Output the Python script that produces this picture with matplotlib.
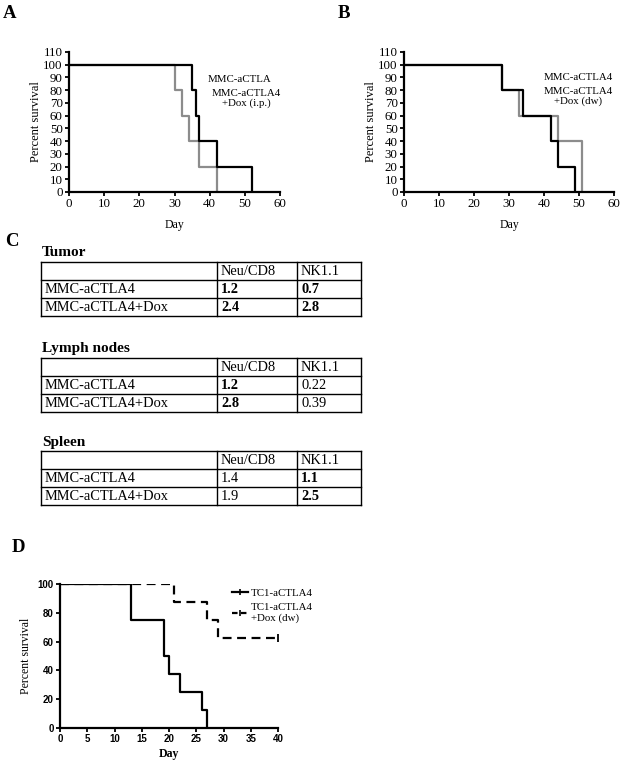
import numpy as np
import matplotlib
matplotlib.use("Agg")
import matplotlib.pyplot as plt
from matplotlib.lines import Line2D
from matplotlib.font_manager import FontProperties

plt.rcParams['font.family'] = ['Liberation Serif', 'DejaVu Serif']

# --- survival data (step functions: day of drop, survival after drop) ---
a_black_days = [0, 35, 36, 37, 42, 52]
a_black_surv = [100, 80, 60, 40, 20, 0]
a_gray_days = [0, 30, 32, 34, 37, 42]
a_gray_surv = [100, 80, 60, 40, 20, 0]
a_labels = ["MMC-aCTLA", "MMC-aCTLA4\n+Dox (i.p.)"]

b_black_days = [0, 28, 34, 42, 44, 49]
b_black_surv = [100, 80, 60, 40, 20, 0]
b_gray_days = [0, 28, 33, 44, 51]
b_gray_surv = [100, 80, 60, 40, 0]
b_labels = ["MMC-aCTLA4", "MMC-aCTLA4\n+Dox (dw)"]

d_solid_days = [0, 13, 19, 20, 22, 26, 27]
d_solid_surv = [100, 75, 50, 37.5, 25, 12.5, 0]
d_dash_days = [0, 21, 27, 29, 40]
d_dash_surv = [100, 87.5, 75, 62.5, 62.5]
d_labels = ["TC1-aCTLA4", "TC1-aCTLA4\n+Dox (dw)"]

# --- tables ---
table_titles = ["Tumor", "Lymph nodes", "Spleen"]
table_cols = ["", "Neu/CD8", "NK1.1"]
table_rows = ["MMC-aCTLA4", "MMC-aCTLA4+Dox"]
neu_cd8 = [["1.2", "2.4"], ["1.2", "2.8"], ["1.4", "1.9"]]
nk11 = [["0.7", "2.8"], ["0.22", "0.39"], ["1.1", "2.5"]]
neu_bold = [True, True, False]
nk_bold = [True, False, True]

W, H = 622, 766
fig = plt.figure(figsize=(W / 100, H / 100), dpi=100)


def px_axes(l, t, r, b):
    return fig.add_axes([l / W, 1 - b / H, (r - l) / W, (b - t) / H])


def step(ax, days, surv, end=None, **kw):
    x = list(days)
    y = list(surv)
    if end is not None:
        x.append(end)
        y.append(y[-1])
    ax.step(x, y, where='post', **kw)


def style_km(ax, xmax, ymax, xstep, ystep, tickfont):
    ax.set_xlim(0, xmax)
    ax.set_ylim(0, ymax)
    ax.set_xticks(np.arange(0, xmax + 1, xstep))
    ax.set_yticks(np.arange(0, ymax + 1, ystep))
    for s in ['top', 'right']:
        ax.spines[s].set_visible(False)
    for s in ['left', 'bottom']:
        ax.spines[s].set_linewidth(1.6)
    ax.tick_params(direction='out', length=3, width=1.3, pad=1.5)
    for lab in ax.get_xticklabels() + ax.get_yticklabels():
        lab.set_fontproperties(tickfont)


serif_tick = FontProperties(family='Liberation Serif', size=9.3)
sans_tick = FontProperties(family='Liberation Sans', weight='bold', size=7)

# Panel A
axA = px_axes(69, 52, 280, 192)
step(axA, a_gray_days, a_gray_surv, color='#8c8c8c', lw=1.6)
step(axA, a_black_days, a_black_surv, color='black', lw=1.6)
style_km(axA, 60, 110, 10, 10, serif_tick)
axA.set_ylabel("Percent survival", fontsize=9, labelpad=1)
axA.set_xlabel("Day", fontsize=8.5, labelpad=6)
axA.text(0.81, 0.80, a_labels[0], transform=axA.transAxes, fontsize=7.8, ha='center', va='center')
axA.text(0.84, 0.67, a_labels[1], transform=axA.transAxes, fontsize=7.8, ha='center', va='center',
         linespacing=1.05, multialignment='center')

# Panel B
axB = px_axes(404, 52, 614, 192)
step(axB, b_gray_days, b_gray_surv, color='#8c8c8c', lw=1.6)
step(axB, b_black_days, b_black_surv, color='black', lw=1.6)
style_km(axB, 60, 110, 10, 10, serif_tick)
axB.set_ylabel("Percent survival", fontsize=9, labelpad=1)
axB.set_xlabel("Day", fontsize=8.5, labelpad=6)
axB.text(0.83, 0.82, b_labels[0], transform=axB.transAxes, fontsize=7.8, ha='center', va='center')
axB.text(0.83, 0.68, b_labels[1], transform=axB.transAxes, fontsize=7.8, ha='center', va='center',
         linespacing=1.05, multialignment='center')

# Panel D
axD = px_axes(60, 584, 278, 728)
step(axD, d_solid_days, d_solid_surv, color='black', lw=1.6)
step(axD, d_dash_days, d_dash_surv, color='black', lw=1.6, linestyle=(0, (4, 2.5)))
axD.plot([d_dash_days[-1]], [d_dash_surv[-1]], marker='|', color='black', ms=6, mew=1.3)
style_km(axD, 40, 100, 5, 20, sans_tick)
axD.set_ylabel("Percent survival", fontsize=8.5, labelpad=4)
axD.set_xlabel("Day", fontsize=8.5, fontweight='bold', labelpad=3)
handles = [Line2D([], [], color='black', lw=1.6, marker='|', ms=5, mew=1.2),
           Line2D([], [], color='black', lw=1.6, linestyle=(0, (2.5, 1.5)), marker='|', ms=5, mew=1.2)]
axD.legend(handles, d_labels, loc='upper left', bbox_to_anchor=(0.77, 1.0), frameon=False,
           fontsize=7.8, handlelength=1.5, handletextpad=0.2, labelspacing=0.45, borderaxespad=0,
           numpoints=1)

# Panel C tables drawn on an overlay axes in pixel units
axC = fig.add_axes([0, 0, 1, 1])
axC.set_xlim(0, W)
axC.set_ylim(H, 0)
axC.axis('off')

col_x = [41, 217, 297, 361]
tops = [262, 358, 451]
title_y = [256, 352, 446]
row_h = 18
fs = 10.4
for k in range(3):
    top = tops[k]
    axC.text(42, title_y[k], table_titles[k], fontsize=11, fontweight='bold', va='baseline', ha='left')
    nrows = 1 + len(table_rows)
    for i in range(nrows + 1):
        axC.plot([col_x[0], col_x[-1]], [top + i * row_h] * 2, color='black', lw=1.0)
    for x in col_x:
        axC.plot([x, x], [top, top + nrows * row_h], color='black', lw=1.0)
    for j, c in enumerate(table_cols):
        axC.text(col_x[j] + 4, top + row_h / 2 + 0.5, c, fontsize=fs, va='center', ha='left')
    for i, r in enumerate(table_rows):
        yy = top + (i + 1.5) * row_h + 0.5
        axC.text(col_x[0] + 4, yy, r, fontsize=fs, va='center', ha='left')
        axC.text(col_x[1] + 4, yy, neu_cd8[k][i], fontsize=fs, va='center', ha='left',
                 fontweight='bold' if neu_bold[k] else 'normal')
        axC.text(col_x[2] + 4, yy, nk11[k][i], fontsize=fs, va='center', ha='left',
                 fontweight='bold' if nk_bold[k] else 'normal')

# panel letters
for letter, (x, y) in zip("ABCD", [(3, 13), (338, 13), (5, 241), (12, 548)]):
    axC.text(x, y, letter, fontsize=13.5, fontweight='bold', va='center', ha='left')

fig.savefig("out.png", dpi=100)
